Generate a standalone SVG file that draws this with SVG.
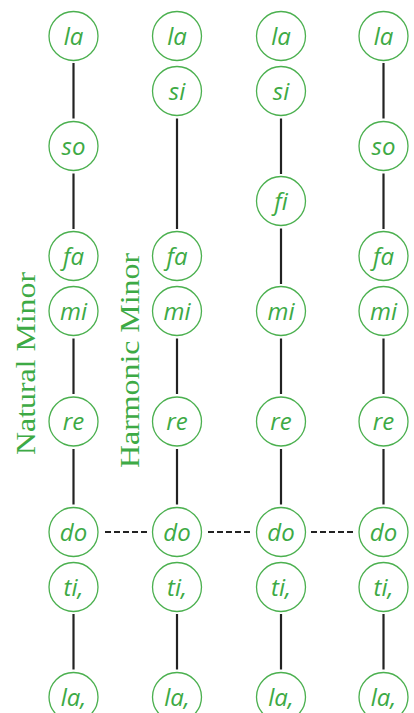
<svg xmlns="http://www.w3.org/2000/svg" width="414" height="713" viewBox="0 0 414 713">
<style>
.n circle{fill:#fff;stroke:#4BB04F;stroke-width:1.3}
.n text{font-family:"Open Sans","Noto Sans",sans-serif;font-style:italic;font-size:24px;fill:#3DAA45;text-anchor:middle}
.c line{stroke:#222;stroke-width:2.2}
.c .d{stroke-dasharray:6 3}
.lbl{font-family:"Liberation Serif","Times New Roman",serif;font-size:28px;fill:#3DAA45;text-anchor:middle}
</style>
<rect width="414" height="713" fill="#fff"/>
<g id="connectors" class="c">
<line x1="73.5" y1="63" x2="73.5" y2="118.5"/>
<line x1="73.5" y1="173.5" x2="73.5" y2="229"/>
<line x1="73.5" y1="338.5" x2="73.5" y2="394"/>
<line x1="73.5" y1="449" x2="73.5" y2="504.5"/>
<line x1="73.5" y1="614" x2="73.5" y2="669.5"/>
<line x1="177" y1="118.5" x2="177" y2="229"/>
<line x1="177" y1="338.5" x2="177" y2="394"/>
<line x1="177" y1="449" x2="177" y2="504.5"/>
<line x1="177" y1="614" x2="177" y2="669.5"/>
<line x1="281" y1="118.5" x2="281" y2="174"/>
<line x1="281" y1="228.5" x2="281" y2="284"/>
<line x1="281" y1="338.5" x2="281" y2="394"/>
<line x1="281" y1="449" x2="281" y2="504.5"/>
<line x1="281" y1="614" x2="281" y2="669.5"/>
<line x1="383.5" y1="63" x2="383.5" y2="118.5"/>
<line x1="383.5" y1="173.5" x2="383.5" y2="229"/>
<line x1="383.5" y1="338.5" x2="383.5" y2="394"/>
<line x1="383.5" y1="449" x2="383.5" y2="504.5"/>
<line x1="383.5" y1="614" x2="383.5" y2="669.5"/>
<line class="d" x1="105" y1="532" x2="147" y2="532"/>
<line class="d" x1="208" y1="532" x2="250" y2="532"/>
<line class="d" x1="311" y1="532" x2="353" y2="532"/>
</g>
<text class="lbl" transform="translate(35,363.5) rotate(-90)" textLength="183" lengthAdjust="spacingAndGlyphs">Natural Minor</text>
<text class="lbl" transform="translate(139,360.5) rotate(-90)" textLength="215" lengthAdjust="spacingAndGlyphs">Harmonic Minor</text>
<g id="n1-la" class="n"><circle cx="73.5" cy="36" r="24.5"/><text x="73.5" y="44.5">la</text></g>
<g id="n1-so" class="n"><circle cx="73.5" cy="146" r="24.5"/><text x="73.5" y="154.5">so</text></g>
<g id="n1-fa" class="n"><circle cx="73.5" cy="256" r="24.5"/><text x="73.5" y="264.5">fa</text></g>
<g id="n1-mi" class="n"><circle cx="73.5" cy="311" r="24.5"/><text x="73.5" y="319.5">mi</text></g>
<g id="n1-re" class="n"><circle cx="73.5" cy="421.5" r="24.5"/><text x="73.5" y="430">re</text></g>
<g id="n1-do" class="n"><circle cx="73.5" cy="532" r="24.5"/><text x="73.5" y="540.5">do</text></g>
<g id="n1-ti" class="n"><circle cx="73.5" cy="587" r="24.5"/><text x="73.5" y="595.5">ti,</text></g>
<g id="n1-la2" class="n"><circle cx="73.5" cy="697" r="24.5"/><text x="73.5" y="705.5">la,</text></g>
<g id="n2-la" class="n"><circle cx="177" cy="36" r="24.5"/><text x="177" y="44.5">la</text></g>
<g id="n2-si" class="n"><circle cx="177" cy="91" r="24.5"/><text x="177" y="99.5">si</text></g>
<g id="n2-fa" class="n"><circle cx="177" cy="256" r="24.5"/><text x="177" y="264.5">fa</text></g>
<g id="n2-mi" class="n"><circle cx="177" cy="311" r="24.5"/><text x="177" y="319.5">mi</text></g>
<g id="n2-re" class="n"><circle cx="177" cy="421.5" r="24.5"/><text x="177" y="430">re</text></g>
<g id="n2-do" class="n"><circle cx="177" cy="532" r="24.5"/><text x="177" y="540.5">do</text></g>
<g id="n2-ti" class="n"><circle cx="177" cy="587" r="24.5"/><text x="177" y="595.5">ti,</text></g>
<g id="n2-la2" class="n"><circle cx="177" cy="697" r="24.5"/><text x="177" y="705.5">la,</text></g>
<g id="n3-la" class="n"><circle cx="281" cy="36" r="24.5"/><text x="281" y="44.5">la</text></g>
<g id="n3-si" class="n"><circle cx="281" cy="91" r="24.5"/><text x="281" y="99.5">si</text></g>
<g id="n3-fi" class="n"><circle cx="281" cy="201" r="24.5"/><text x="281" y="209.5">fi</text></g>
<g id="n3-mi" class="n"><circle cx="281" cy="311" r="24.5"/><text x="281" y="319.5">mi</text></g>
<g id="n3-re" class="n"><circle cx="281" cy="421.5" r="24.5"/><text x="281" y="430">re</text></g>
<g id="n3-do" class="n"><circle cx="281" cy="532" r="24.5"/><text x="281" y="540.5">do</text></g>
<g id="n3-ti" class="n"><circle cx="281" cy="587" r="24.5"/><text x="281" y="595.5">ti,</text></g>
<g id="n3-la2" class="n"><circle cx="281" cy="697" r="24.5"/><text x="281" y="705.5">la,</text></g>
<g id="n4-la" class="n"><circle cx="383.5" cy="36" r="24.5"/><text x="383.5" y="44.5">la</text></g>
<g id="n4-so" class="n"><circle cx="383.5" cy="146" r="24.5"/><text x="383.5" y="154.5">so</text></g>
<g id="n4-fa" class="n"><circle cx="383.5" cy="256" r="24.5"/><text x="383.5" y="264.5">fa</text></g>
<g id="n4-mi" class="n"><circle cx="383.5" cy="311" r="24.5"/><text x="383.5" y="319.5">mi</text></g>
<g id="n4-re" class="n"><circle cx="383.5" cy="421.5" r="24.5"/><text x="383.5" y="430">re</text></g>
<g id="n4-do" class="n"><circle cx="383.5" cy="532" r="24.5"/><text x="383.5" y="540.5">do</text></g>
<g id="n4-ti" class="n"><circle cx="383.5" cy="587" r="24.5"/><text x="383.5" y="595.5">ti,</text></g>
<g id="n4-la2" class="n"><circle cx="383.5" cy="697" r="24.5"/><text x="383.5" y="705.5">la,</text></g>
</svg>
